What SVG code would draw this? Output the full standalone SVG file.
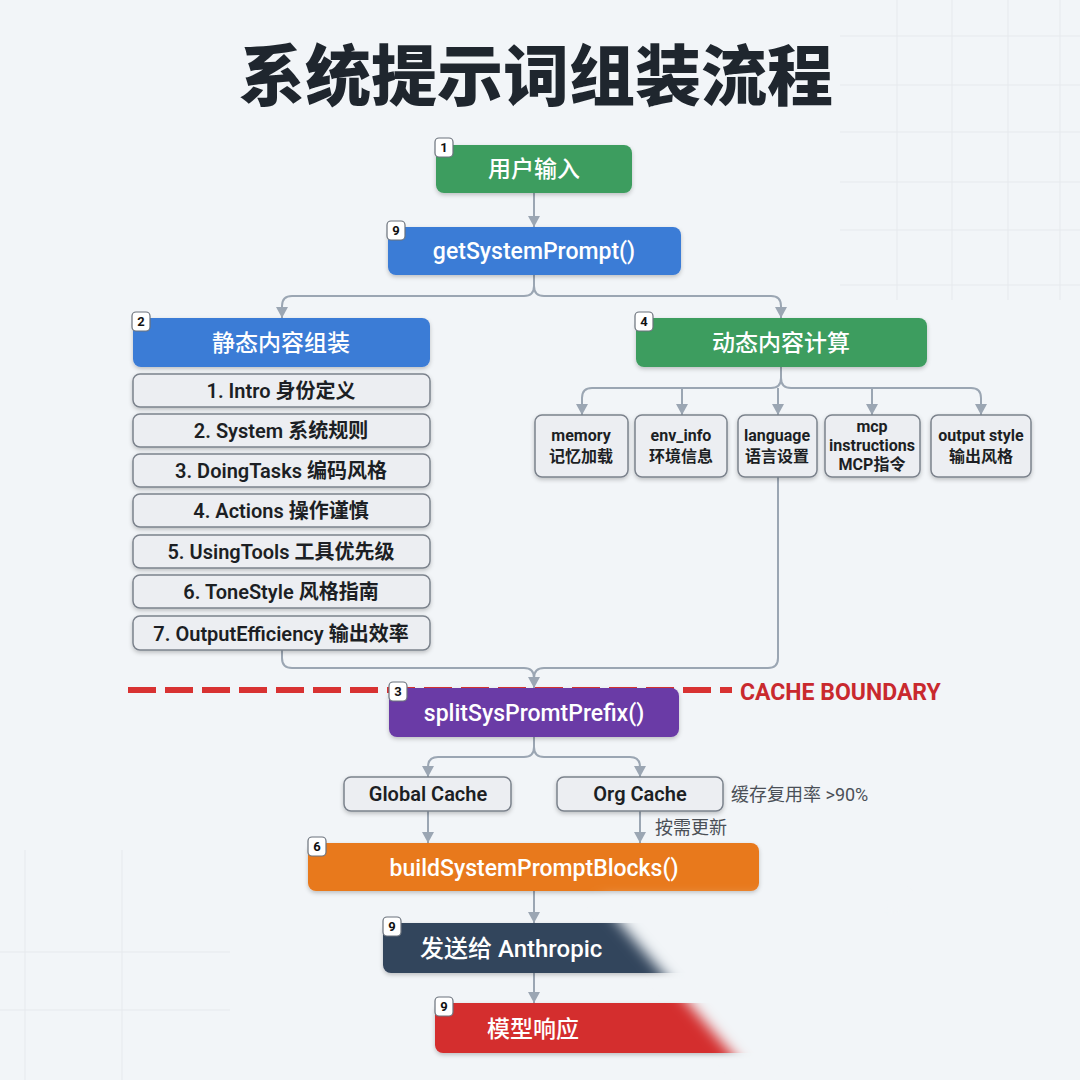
<svg xmlns="http://www.w3.org/2000/svg" width="1080" height="1080" viewBox="0 0 1080 1080">
<defs>
<style>
text{font-family:Roboto,"Noto Sans CJK SC",sans-serif;}
.title{font-family:"Noto Sans CJK SC",sans-serif;font-weight:900;font-size:66px;fill:#1f262e;text-anchor:middle;}
.nl{font-size:23px;font-weight:500;fill:#fff;text-anchor:middle;}
.li{font-size:20px;font-weight:600;fill:#1c1f24;text-anchor:middle;}
.dc{font-size:16px;font-weight:700;fill:#1c1f24;text-anchor:middle;}
.lite{fill:#eceef2;stroke:#7b828c;stroke-width:1.5;}
.bd{fill:#fff;stroke:#6b727c;stroke-width:1.2;}
.bt{font-size:13px;font-weight:700;fill:#111;text-anchor:middle;}
.conn path{fill:none;stroke:#9ba6b3;stroke-width:2;}
.note{font-size:18px;fill:#4b5057;}
.grid line{stroke:#e6e9ed;stroke-width:1;}
</style>
<marker id="ah" markerUnits="userSpaceOnUse" markerWidth="12" markerHeight="12" refX="11" refY="6" orient="auto">
<path d="M0,0 L11,6 L0,12 z" fill="#9ba6b3"/>
</marker>
<filter id="sh" x="-10%" y="-20%" width="120%" height="150%">
<feDropShadow dx="0" dy="2" stdDeviation="2" flood-color="#000" flood-opacity="0.22"/>
</filter>
<filter id="blur" filterUnits="userSpaceOnUse" x="500" y="850" width="500" height="260">
<feGaussianBlur stdDeviation="7"/>
</filter>
</defs>
<rect width="1080" height="1080" fill="#f2f5f8"/>
<g class="grid">
<line x1="897" y1="0" x2="897" y2="300"/><line x1="952" y1="0" x2="952" y2="300"/><line x1="1008" y1="0" x2="1008" y2="300"/><line x1="1060" y1="0" x2="1060" y2="300"/>
<line x1="840" y1="36" x2="1080" y2="36"/><line x1="840" y1="85" x2="1080" y2="85"/><line x1="840" y1="132" x2="1080" y2="132"/><line x1="840" y1="182" x2="1080" y2="182"/><line x1="840" y1="230" x2="1080" y2="230"/><line x1="840" y1="285" x2="1080" y2="285"/>
<line x1="25" y1="850" x2="25" y2="1080"/><line x1="122" y1="850" x2="122" y2="1080"/>
<line x1="0" y1="952" x2="230" y2="952"/><line x1="0" y1="1010" x2="230" y2="1010"/>
</g>
<text class="title" x="536" y="100">系统提示词组装流程</text>

<g id="cache-boundary">
<line x1="128" y1="690" x2="732" y2="690" stroke="#d83232" stroke-width="6" stroke-dasharray="28 9"/>
<text x="740" y="700" font-size="23" font-weight="700" fill="#c9292e">CACHE BOUNDARY</text>
</g>

<g class="conn" id="connectors">
<path d="M534,193 V227" marker-end="url(#ah)"/>
<path d="M534,275 V286 Q534,296 524,296 H292 Q282,296 282,306 V318" marker-end="url(#ah)"/>
<path d="M534,286 Q534,296 544,296 H771 Q781,296 781,306 V318" marker-end="url(#ah)"/>
<path d="M781,367 V378 Q781,388 771,388 H592 Q582,388 582,398 V415" marker-end="url(#ah)"/>
<path d="M781,378 Q781,388 791,388 H971 Q981,388 981,398 V415" marker-end="url(#ah)"/>
<path d="M682,388 V415" marker-end="url(#ah)"/>
<path d="M778,388 V415" marker-end="url(#ah)"/>
<path d="M872,388 V415" marker-end="url(#ah)"/>
<path d="M282,650 V658 Q282,668 292,668 H524 Q534,668 534,678 V688" marker-end="url(#ah)"/>
<path d="M778,477 V658 Q778,668 768,668 H544 Q534,668 534,678"/>
<path d="M534,737 V747 Q534,757 524,757 H438 Q428,757 428,767 V777" marker-end="url(#ah)"/>
<path d="M534,747 Q534,757 544,757 H630 Q640,757 640,767 V777" marker-end="url(#ah)"/>
<path d="M428,811 V843" marker-end="url(#ah)"/>
<path d="M640,811 V843" marker-end="url(#ah)"/>
<path d="M534,891 V923" marker-end="url(#ah)"/>
<path d="M534,973 V1003" marker-end="url(#ah)"/>
</g>

<g id="n1"><rect x="436" y="145" width="196" height="48" rx="8" fill="#3d9d5f" filter="url(#sh)"/><text class="nl" x="534" y="177">用户输入</text><rect class="bd" x="435" y="138" width="18" height="19" rx="4"/><text class="bt" x="444" y="152">1</text></g>
<g id="n-get"><rect x="388" y="227" width="293" height="48" rx="8" fill="#3a7bd6" filter="url(#sh)"/><text class="nl" x="534" y="259" font-size="24">getSystemPrompt()</text><rect class="bd" x="387" y="221" width="18" height="19" rx="4"/><text class="bt" x="396" y="235">9</text></g>
<g id="n-static"><rect x="133" y="318" width="297" height="49" rx="8" fill="#3a7bd6" filter="url(#sh)"/><text class="nl" x="281" y="351" font-size="24">静态内容组装</text><rect class="bd" x="132" y="312" width="18" height="19" rx="4"/><text class="bt" x="141" y="326">2</text></g>
<g id="n-dynamic"><rect x="636" y="318" width="291" height="49" rx="8" fill="#3d9d5f" filter="url(#sh)"/><text class="nl" x="781" y="351" font-size="24">动态内容计算</text><rect class="bd" x="635" y="312" width="18" height="19" rx="4"/><text class="bt" x="644" y="326">4</text></g>

<g id="static-list">
<g id="s1"><rect class="lite" x="133" y="374" width="297" height="33" rx="7" filter="url(#sh)"/><text class="li" x="281" y="398">1. Intro 身份定义</text></g>
<g id="s2"><rect class="lite" x="133" y="414" width="297" height="33" rx="7" filter="url(#sh)"/><text class="li" x="281" y="438">2. System 系统规则</text></g>
<g id="s3"><rect class="lite" x="133" y="454" width="297" height="33" rx="7" filter="url(#sh)"/><text class="li" x="281" y="478">3. DoingTasks 编码风格</text></g>
<g id="s4"><rect class="lite" x="133" y="494" width="297" height="33" rx="7" filter="url(#sh)"/><text class="li" x="281" y="518">4. Actions 操作谨慎</text></g>
<g id="s5"><rect class="lite" x="133" y="535" width="297" height="33" rx="7" filter="url(#sh)"/><text class="li" x="281" y="559">5. UsingTools 工具优先级</text></g>
<g id="s6"><rect class="lite" x="133" y="575" width="297" height="33" rx="7" filter="url(#sh)"/><text class="li" x="281" y="599">6. ToneStyle 风格指南</text></g>
<g id="s7"><rect class="lite" x="133" y="616" width="297" height="34" rx="7" filter="url(#sh)"/><text class="li" x="281" y="641">7. OutputEfficiency 输出效率</text></g>
</g>

<g id="dyn-children">
<g id="d-memory"><rect class="lite" x="535" y="415" width="93" height="62" rx="7" filter="url(#sh)"/><text class="dc" x="581" y="441">memory</text><text class="dc" x="581" y="462">记忆加载</text></g>
<g id="d-env"><rect class="lite" x="635" y="415" width="92" height="62" rx="7" filter="url(#sh)"/><text class="dc" x="681" y="441">env_info</text><text class="dc" x="681" y="462">环境信息</text></g>
<g id="d-lang"><rect class="lite" x="738" y="415" width="79" height="62" rx="7" filter="url(#sh)"/><text class="dc" x="777" y="441">language</text><text class="dc" x="777" y="462">语言设置</text></g>
<g id="d-mcp"><rect class="lite" x="825" y="415" width="95" height="62" rx="7" filter="url(#sh)"/><text class="dc" x="872" y="432">mcp</text><text class="dc" x="872" y="451">instructions</text><text class="dc" x="872" y="470">MCP指令</text></g>
<g id="d-output"><rect class="lite" x="931" y="415" width="100" height="62" rx="7" filter="url(#sh)"/><text class="dc" x="981" y="441">output style</text><text class="dc" x="981" y="462">输出风格</text></g>
</g>

<g id="n-split"><rect x="389" y="688" width="290" height="49" rx="8" fill="#6b3aa6" filter="url(#sh)"/><text class="nl" x="534" y="721" font-size="24">splitSysPromtPrefix()</text><rect class="bd" x="389" y="682" width="18" height="19" rx="4"/><text class="bt" x="398" y="696">3</text></g>

<g id="n-global"><rect class="lite" x="344" y="777" width="167" height="34" rx="7" filter="url(#sh)"/><text class="li" x="428" y="801">Global Cache</text></g>
<g id="n-org"><rect class="lite" x="557" y="777" width="166" height="34" rx="7" filter="url(#sh)"/><text class="li" x="640" y="801">Org Cache</text></g>
<text class="note" x="731" y="801">缓存复用率 &gt;90%</text>
<text class="note" x="655" y="834">按需更新</text>

<g id="n-build"><rect x="308" y="843" width="451" height="48" rx="8" fill="#e8791e" filter="url(#sh)"/><text class="nl" x="534" y="876" font-size="24">buildSystemPromptBlocks()</text><rect class="bd" x="308" y="837" width="18" height="19" rx="4"/><text class="bt" x="317" y="851">6</text></g>

<g id="n-send"><rect x="383" y="923" width="380" height="50" rx="8" fill="#33445c" filter="url(#sh)"/><text x="420" y="957" style="font-size:24px;font-weight:500;fill:#fff;text-anchor:start">发送给 Anthropic</text><rect class="bd" x="383" y="917" width="18" height="19" rx="4"/><text class="bt" x="392" y="931">9</text></g>
<g id="n-resp"><rect x="435" y="1003" width="330" height="50" rx="8" fill="#d42f2f" filter="url(#sh)"/><text class="nl" x="533" y="1037" font-size="24">模型响应</text><rect class="bd" x="435" y="997" width="18" height="19" rx="4"/><text class="bt" x="444" y="1011">9</text></g>

<polygon points="600,900 900,900 900,1110 780,1110" fill="#f2f5f8" filter="url(#blur)"/>
</svg>
